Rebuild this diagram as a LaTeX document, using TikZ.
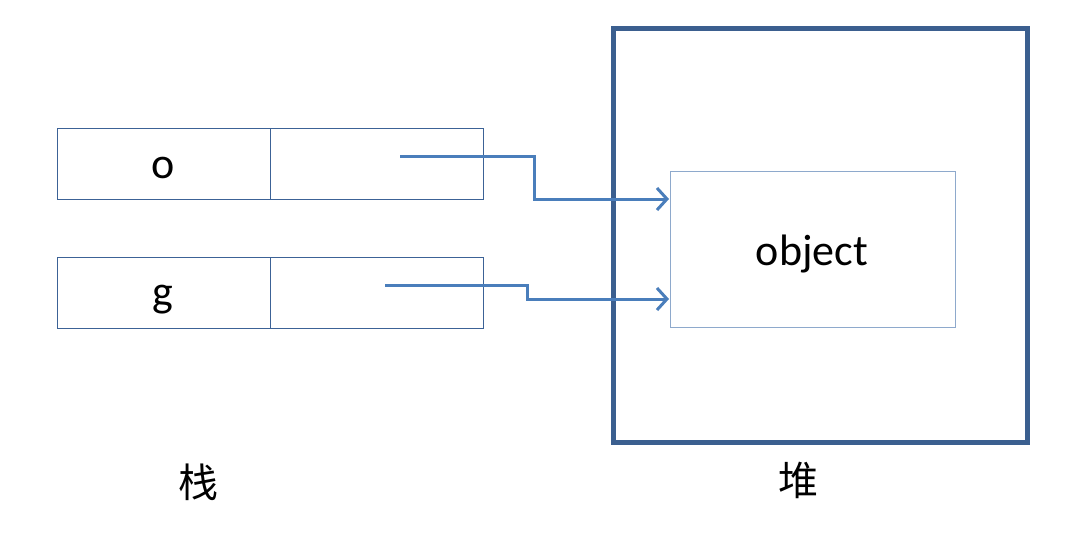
\documentclass[tikz,border=0pt]{standalone}
\usepackage{fontspec}
\setmainfont{Carlito}
\newfontfamily\cjk{Noto Sans CJK SC}
\usetikzlibrary{arrows.meta}
\definecolor{heapblue}{HTML}{3B5F8F}
\definecolor{cellblue}{HTML}{3C6296}
\definecolor{objblue}{HTML}{8EA9CC}
\definecolor{arrowblue}{HTML}{4A7EBB}
\tikzset{
  cell/.style={draw=cellblue, line width=1pt, minimum width=213pt, minimum height=71pt, inner sep=0pt, anchor=north west},
  heap/.style={draw=heapblue, line width=4.5pt, minimum width=414pt, minimum height=414pt, inner sep=0pt, anchor=north west},
  objbox/.style={draw=objblue, line width=1pt, minimum width=285pt, minimum height=156pt, inner sep=0pt, anchor=north west},
  txt/.style={font=\fontsize{44}{48}\selectfont, inner sep=0pt, anchor=base},
  ptr/.style={draw=arrowblue, line width=3pt, -{Straight Barb[length=10pt,width=22pt,line width=3pt]}},
  lbl/.style={font=\cjk\fontsize{40}{44}\selectfont, inner sep=0pt}
}
\begin{document}
\begin{tikzpicture}[x=1pt,y=-1pt]
\useasboundingbox (0,0) rectangle (1086,554);
\node[cell] (o1) at (57,128) {};
\node[cell] (o2) at (270,128) {};
\node[cell] (g1) at (57,257) {};
\node[cell] (g2) at (270,257) {};
\node[txt] (otxt) at (163,178) {o};
\node[txt] (gtxt) at (163,306) {g};
\node[heap] (heap) at (611,26) {};
\node[objbox] (obj) at (670,171) {};
\node[txt] (objtxt) at (812,265) {object};
\coordinate (os) at (400,156);
\coordinate (gs) at (385,285);
\coordinate (oe) at (669,199);
\coordinate (ge) at (669,299);
\draw[ptr] (os) -- (534,156) -- (534,199) -- (oe);
\draw[ptr] (gs) -- (527,285) -- (527,299) -- (ge);
\node[lbl] (stack) at (198,482) {栈};
\node[lbl] (heaplbl) at (798,480) {堆};
\end{tikzpicture}
\end{document}
